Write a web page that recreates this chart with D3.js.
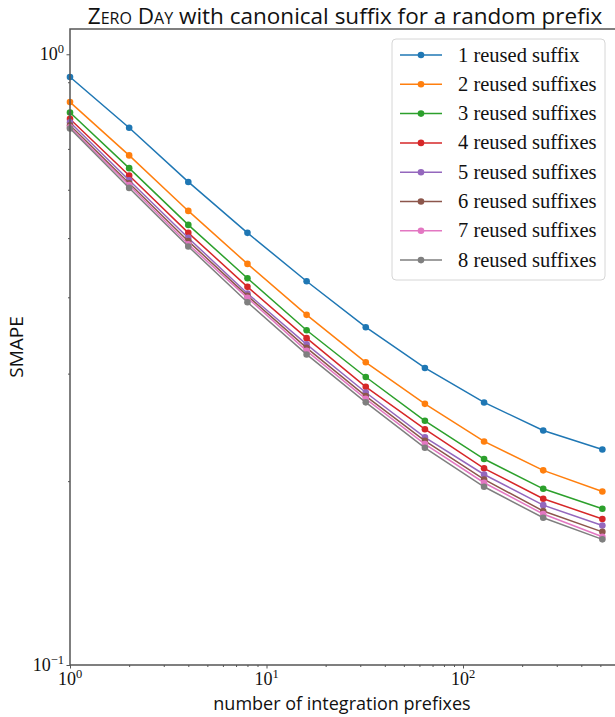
<!DOCTYPE html>
<html>
<head>
<meta charset="utf-8">
<script src="https://cdn.jsdelivr.net/npm/d3@7"></script>
<style>
  html, body { margin: 0; padding: 0; background: #fff; }
  svg { display: block; }
</style>
</head>
<body>
<svg id="chart" width="615" height="717"></svg>
<script>
// Number of integration prefixes (x)
const prefixes = [1, 2, 4, 8, 16, 32, 64, 128, 256, 512];

// SMAPE per number of reused suffixes
const suffix1 = [0.918, 0.758, 0.618, 0.510, 0.425, 0.3574, 0.3065, 0.2691, 0.2421, 0.2254];
const suffix2 = [0.835, 0.683, 0.554, 0.4537, 0.3744, 0.3131, 0.2677, 0.2323, 0.2083, 0.1924];
const suffix3 = [0.803, 0.651, 0.5256, 0.4299, 0.3533, 0.2962, 0.2511, 0.2174, 0.1943, 0.1802];
const suffix4 = [0.7837, 0.633, 0.510, 0.4161, 0.3429, 0.2854, 0.2433, 0.2099, 0.1872, 0.1734];
const suffix5 = [0.774, 0.622, 0.5004, 0.4058, 0.3349, 0.2794, 0.2359, 0.2051, 0.1827, 0.1692];
const suffix6 = [0.765, 0.615, 0.4943, 0.4022, 0.3306, 0.2756, 0.2329, 0.2013, 0.1787, 0.1652];
const suffix7 = [0.7595, 0.6105, 0.4887, 0.3992, 0.3269, 0.2728, 0.2300, 0.1988, 0.1767, 0.1622];
const suffix8 = [0.7557, 0.6042, 0.4845, 0.3927, 0.3225, 0.2692, 0.2268, 0.1958, 0.1742, 0.1606];

const seriesLabels = [
  "1 reused suffix", "2 reused suffixes", "3 reused suffixes", "4 reused suffixes",
  "5 reused suffixes", "6 reused suffixes", "7 reused suffixes", "8 reused suffixes"
];
const seriesValues = [suffix1, suffix2, suffix3, suffix4, suffix5, suffix6, suffix7, suffix8];
const colors = ["#1f77b4", "#ff7f0e", "#2ca02c", "#d62728", "#9467bd", "#8c564b", "#e377c2", "#7f7f7f"];

const xTickValues = [1, 10, 100];
const xTickExponents = ["0", "1", "2"];
const yTickValues = [0.1, 1];
const yTickExponents = ["\u22121", "0"];

const serif = "'Liberation Serif', 'DejaVu Serif', serif";
const sans = "'Open Sans', 'Noto Sans', sans-serif";

const svg = d3.select("#chart");
const plotLeft = 70, plotTop = 29, plotBottom = 665, plotRight = 618;
const decade = 196.5;

const x = d3.scaleLog()
  .domain([1, Math.pow(10, (plotRight - plotLeft) / decade)])
  .range([plotLeft, plotRight]);
const y = d3.scaleLog().domain([0.1, 1.1]).range([plotBottom, plotTop]);

const clip = svg.append("defs").append("clipPath").attr("id", "plot-clip");
clip.append("rect").attr("x", plotLeft - 6).attr("y", plotTop - 6)
  .attr("width", plotRight - plotLeft + 12).attr("height", plotBottom - plotTop + 12);

// Minor tick positions on both log axes
const xMinor = [];
[1, 10, 100].forEach(d => { for (let k = 2; k <= 9; k++) { const v = d * k; if (x(v) < 615) xMinor.push(v); } });
const yMinor = [];
for (let k = 2; k <= 9; k++) yMinor.push(k / 10);

const spine = "#555";

// Data lines and markers
const plot = svg.append("g").attr("clip-path", "url(#plot-clip)");
const line = d3.line().x((d, i) => x(prefixes[i])).y(d => y(d));
seriesValues.forEach((vals, s) => {
  plot.append("path").datum(vals)
    .attr("d", line).attr("fill", "none")
    .attr("stroke", colors[s]).attr("stroke-width", 1.5);
  plot.selectAll(null).data(vals).enter().append("circle")
    .attr("cx", (d, i) => x(prefixes[i])).attr("cy", d => y(d))
    .attr("r", 3.3).attr("fill", colors[s]);
});

// Axes
const xAxis = d3.axisBottom(x).tickValues(xTickValues).tickSize(3.5).tickFormat("");
const gx = svg.append("g").attr("transform", `translate(0,${plotBottom})`).call(xAxis);
const xMinorAxis = d3.axisBottom(x).tickValues(xMinor).tickSize(2).tickFormat("");
const gxm = svg.append("g").attr("transform", `translate(0,${plotBottom})`).call(xMinorAxis);

const yAxis = d3.axisLeft(y).tickValues(yTickValues).tickSize(3.5).tickFormat("");
const gy = svg.append("g").attr("transform", `translate(${plotLeft},0)`).call(yAxis);
const yMinorAxis = d3.axisLeft(y).tickValues(yMinor).tickSize(2).tickFormat("");
const gym = svg.append("g").attr("transform", `translate(${plotLeft},0)`).call(yMinorAxis);

[gx, gxm, gy, gym].forEach(g => {
  g.select(".domain").remove();
  g.selectAll(".tick line").attr("stroke", spine).attr("stroke-width", 1);
});

// Frame (spines)
svg.append("rect").attr("x", plotLeft).attr("y", plotTop)
  .attr("width", plotRight - plotLeft).attr("height", plotBottom - plotTop)
  .attr("fill", "none").attr("stroke", spine).attr("stroke-width", 1.5);

// Tick labels as powers of ten
xTickValues.forEach((v, i) => {
  const t = svg.append("text").attr("x", x(v)).attr("y", plotBottom + 20)
    .attr("text-anchor", "middle").attr("font-family", serif).attr("font-size", 18).attr("fill", "#111");
  t.append("tspan").text("10");
  t.append("tspan").attr("dy", -7).attr("font-size", 12.5).text(xTickExponents[i]);
});
yTickValues.forEach((v, i) => {
  const t = svg.append("text").attr("x", plotLeft - 6).attr("y", y(v) + 6)
    .attr("text-anchor", "end").attr("font-family", serif).attr("font-size", 18).attr("fill", "#111");
  t.append("tspan").text("10");
  t.append("tspan").attr("dy", -7).attr("font-size", 12.5).text(yTickExponents[i]);
});

// Axis titles
svg.append("text").attr("x", 342).attr("y", 710)
  .attr("text-anchor", "middle").attr("font-family", sans).attr("font-size", 18).attr("fill", "#111")
  .text("number of integration prefixes");
svg.append("text").attr("transform", `translate(23,${(plotTop + plotBottom) / 2}) rotate(-90)`)
  .attr("text-anchor", "middle").attr("font-family", sans).attr("font-size", 19).attr("fill", "#111")
  .text("SMAPE");

// Chart title
const title = svg.append("text").attr("x", 345).attr("y", 24)
  .attr("text-anchor", "middle").attr("font-family", sans).attr("font-size", 22.5).attr("fill", "#111");
title.append("tspan").attr("font-variant", "small-caps").text("Zero Day");
title.append("tspan").text(" with canonical suffix for a random prefix");

// Legend
const lg = svg.append("g");
lg.append("rect").attr("x", 392).attr("y", 39).attr("width", 213).attr("height", 241)
  .attr("rx", 4).attr("fill", "#fff").attr("fill-opacity", 0.8)
  .attr("stroke", "#d6d6d6").attr("stroke-width", 1);
seriesLabels.forEach((label, s) => {
  const cy = 55 + s * 29.3;
  lg.append("line").attr("x1", 400).attr("x2", 442).attr("y1", cy).attr("y2", cy)
    .attr("stroke", colors[s]).attr("stroke-width", 1.5);
  lg.append("circle").attr("cx", 421).attr("cy", cy).attr("r", 3.3).attr("fill", colors[s]);
  lg.append("text").attr("x", 458).attr("y", cy + 6.5)
    .attr("font-family", serif).attr("font-size", 20.5).attr("fill", "#111").text(label);
});
</script>
</body>
</html>
